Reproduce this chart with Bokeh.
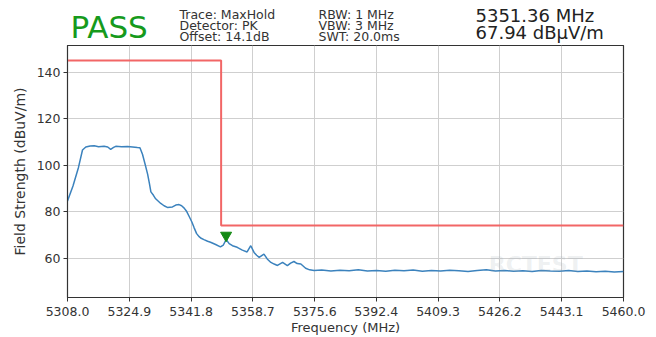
from bokeh.plotting import figure
from bokeh.layouts import column
from bokeh.models import Range1d, FixedTicker, Label, PrintfTickFormatter
from bokeh.core.properties import value
from bokeh.embed import file_html
from bokeh.resources import INLINE

# ---- data ----
freq_mhz = [5308.0, 5309.5, 5311.0, 5312.1, 5313.0, 5314.2, 5315.3, 5316.5, 5318.0, 5319.0,
            5319.8, 5320.6, 5321.2, 5322.8, 5324.4, 5325.8, 5327.1, 5327.8, 5328.5, 5329.2,
            5329.9, 5330.4, 5330.8, 5331.5, 5332.1, 5333.5, 5334.4, 5335.3, 5336.7, 5337.6,
            5338.5, 5339.2, 5339.9, 5340.6, 5341.2, 5342.0, 5342.6, 5343.3, 5344.0, 5344.4,
            5345.3, 5346.3, 5347.1, 5348.5, 5349.8, 5350.6, 5351.36, 5352.2, 5353.1, 5354.4,
            5355.8, 5357.1, 5358.1, 5359.0, 5359.7, 5360.4, 5361.7, 5362.6, 5363.6, 5364.5,
            5365.4, 5366.8, 5368.1, 5369.0, 5369.9, 5370.8, 5371.8, 5373.1, 5374.2, 5375.4,
            5377.5, 5380.0, 5382.5, 5385.0, 5387.5, 5390.0, 5392.5, 5395.0, 5397.5, 5400.0,
            5402.5, 5405.0, 5407.5, 5410.0, 5412.5, 5415.0, 5417.5, 5420.0, 5422.5, 5425.0,
            5427.5, 5430.0, 5432.5, 5435.0, 5437.5, 5440.0, 5442.5, 5445.0, 5447.5, 5450.0,
            5452.5, 5455.0, 5457.5, 5460.0]
level_dbuv = [84.6, 91.0, 99.0, 106.5, 107.8, 108.2, 108.3, 107.9, 108.1, 107.8,
              106.8, 107.6, 108.1, 107.9, 108.0, 107.8, 107.6, 107.5, 104.7, 100.5,
              96.1, 92.0, 88.5, 87.0, 85.5, 83.5, 82.5, 81.8, 82.0, 82.8,
              83.0, 82.5, 81.5, 80.0, 78.1, 75.5, 73.1, 70.5, 69.2, 68.6,
              67.9, 67.2, 66.8, 65.8, 64.8, 65.6, 67.94, 66.2, 65.3, 64.6,
              63.4, 62.6, 65.3, 62.4, 61.2, 60.3, 61.7, 59.6, 58.1, 57.4,
              56.8, 58.1, 56.7, 57.8, 58.5, 57.6, 57.4, 55.6, 54.9, 54.6,
              54.8, 54.4, 54.7, 54.5, 54.9, 54.4, 54.6, 54.3, 54.7, 54.5,
              54.8, 54.3, 54.6, 54.4, 54.7, 54.5, 54.2, 54.6, 54.9, 54.4,
              54.6, 54.3, 54.5, 54.2, 54.6, 54.4, 54.3, 54.6, 54.2, 54.4,
              54.1, 54.3, 54.0, 54.2]
limit_freq = [5308.0, 5350.0, 5350.0, 5460.0]
limit_level = [145.0, 145.0, 74.0, 74.0]
marker_freq = [5351.36]
marker_level = [67.94]
x_tick_values = [5308.0, 5324.9, 5341.8, 5358.7, 5375.6, 5392.4, 5409.3, 5426.2, 5443.1, 5460.0]
y_tick_values = [60, 80, 100, 120, 140]
verdict = "PASS"
header_left = ["Trace: MaxHold", "Detector: PK", "Offset: 14.1dB"]
header_mid = ["RBW: 1 MHz", "VBW: 3 MHz", "SWT: 20.0ms"]
readout = ["5351.36 MHz", "67.94 dB\u00b5V/m"]
x_title = "Frequency (MHz)"
y_title = "Field Strength (dBuV/m)"

FONT = "DejaVu Sans"
W, H = 656, 337
HEADER_H = 45
BL, BR = 67, 33   # left / right borders around the plot frame

# ---- header strip: coordinates equal page pixels ----
h = figure(width=W, height=HEADER_H, output_backend="svg", toolbar_location=None,
           x_range=Range1d(BL, W - BR), y_range=Range1d(HEADER_H, 0),
           x_axis_type=None, y_axis_type=None,
           min_border_left=BL, min_border_right=BR, min_border_top=0, min_border_bottom=0)
h.outline_line_color = None
h.xgrid.visible = False
h.ygrid.visible = False
h.background_fill_color = "white"
h.border_fill_color = "white"

h.text(x=[70], y=[26], text=[verdict], text_font=value(FONT), text_font_size="31px",
       text_color="#169a1c", text_baseline="alphabetic")
h.text(x=[179] * 3, y=[14.0, 25.2, 36.4], text=header_left, text_font=value(FONT),
       text_font_size="12.5px", text_color="#333333", text_baseline="alphabetic")
h.text(x=[318] * 3, y=[14.0, 25.2, 36.4], text=header_mid, text_font=value(FONT),
       text_font_size="12.5px", text_color="#333333", text_baseline="alphabetic")
h.text(x=[475] * 2, y=[14.5, 31.5], text=readout, text_font=value(FONT),
       text_font_size="18px", text_color="#222222", text_baseline="alphabetic")

# ---- main chart ----
p = figure(width=W, height=H - HEADER_H, output_backend="svg", toolbar_location=None,
           x_range=Range1d(5308.0, 5460.0), y_range=Range1d(43.0, 151.5),
           min_border_left=BL, min_border_right=BR, min_border_top=0, min_border_bottom=40)
p.background_fill_color = "white"
p.border_fill_color = "white"
p.outline_line_color = "#333333"
p.outline_line_width = 1.2

for ax in (p.xaxis[0], p.yaxis[0]):
    ax.axis_line_color = "#333333"
    ax.major_tick_line_color = "#333333"
    ax.minor_tick_line_color = None
    ax.major_tick_out = 4
    ax.major_tick_in = 0
    ax.major_label_text_font = FONT
    ax.major_label_text_font_size = "12.5px"
    ax.major_label_text_color = "#333333"
    ax.axis_label_text_font = FONT
    ax.axis_label_text_font_style = "normal"
    ax.axis_label_text_color = "#333333"

p.xaxis.ticker = FixedTicker(ticks=x_tick_values)
p.xaxis.formatter = PrintfTickFormatter(format="%.1f")
p.xaxis.major_label_standoff = 5
p.xaxis.axis_label = x_title
p.xaxis.axis_label_text_font_size = "13px"
p.xaxis.axis_label_standoff = 1

p.yaxis.ticker = FixedTicker(ticks=y_tick_values)
p.yaxis.major_label_standoff = 3
p.yaxis.axis_label = y_title
p.yaxis.axis_label_text_font_size = "14px"
p.yaxis.axis_label_standoff = 6

p.xgrid.grid_line_color = "#cfcfcf"
p.ygrid.grid_line_color = "#cfcfcf"

# faint watermark
p.add_layout(Label(x=5436.0, y=57.0, text="RCTEST", text_font=FONT, text_font_size="22px",
                   text_font_style="bold", text_color="#9aa8b0", text_alpha=0.18,
                   text_align="center", text_baseline="middle"))

p.line(limit_freq, limit_level, line_color="#f26666", line_width=2)
p.line(freq_mhz, level_dbuv, line_color="#3b82bd", line_width=1.5)
marker_y = [v + 1.8 for v in marker_level]
p.scatter(marker_freq, marker_y, marker="inverted_triangle", size=11,
          fill_color="#138a13", line_color="#138a13")

layout = column(h, p, spacing=0)
open("out.html", "w").write(file_html(layout, INLINE))
